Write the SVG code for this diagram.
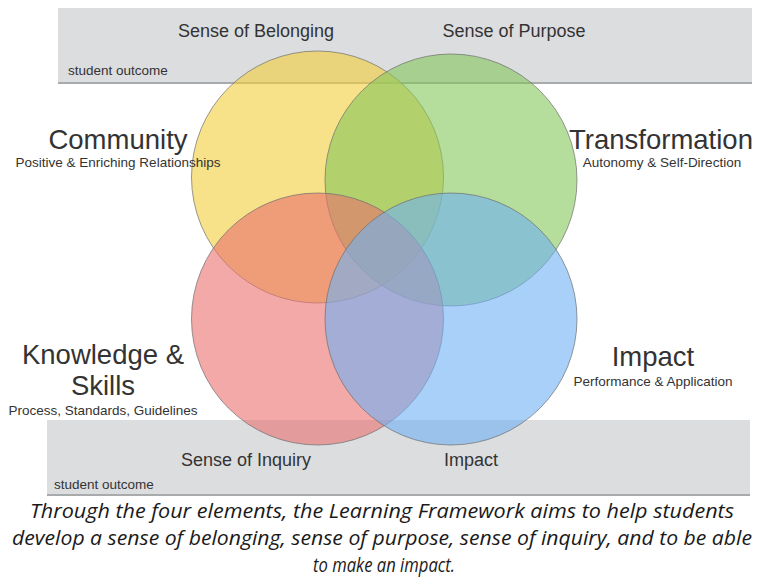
<svg xmlns="http://www.w3.org/2000/svg" width="768" height="579" viewBox="0 0 768 579">
<defs>
<style>
.band{fill:#dcdddf}
.shadow{fill:#a9aaac}
.c{stroke:#6d6d6d;stroke-opacity:0.7;stroke-width:1;fill-opacity:0.6}
.t{font-family:"Liberation Sans",Arial,sans-serif;fill:#333333;text-anchor:middle}
.big{font-size:27.5px}
.med{font-size:18px}
.sm{font-size:13.5px}
.so{font-family:"Liberation Sans",Arial,sans-serif;fill:#333333;font-size:13.5px}
.cap{font-family:"Open Sans","Liberation Sans",sans-serif;font-style:italic;font-size:20.5px;fill:#1a1a1a;text-anchor:middle}
</style>
</defs>
<rect width="768" height="579" fill="#ffffff"/>
<g id="band-top">
<rect class="band" x="58" y="8" width="694" height="75"/>
<rect class="shadow" x="58" y="82" width="694" height="2"/>
<text class="t med" x="256" y="37">Sense of Belonging</text>
<text class="t med" x="514" y="37">Sense of Purpose</text>
<text class="so" x="68" y="75">student outcome</text>
</g>
<g id="band-bottom">
<rect class="band" x="47" y="420" width="703" height="75"/>
<rect class="shadow" x="47" y="494" width="703" height="2"/>
<text class="t med" x="246" y="466">Sense of Inquiry</text>
<text class="t med" x="471" y="466">Impact</text>
<text class="so" x="54" y="489">student outcome</text>
</g>
<g id="circle-community"><circle class="c" cx="317.5" cy="177" r="126" fill="#f2cf3a"/></g>
<g id="circle-transformation"><circle class="c" cx="451" cy="180" r="126" fill="#84c65a"/></g>
<g id="circle-knowledge"><circle class="c" cx="317.5" cy="319" r="126" fill="#e9706e"/></g>
<g id="circle-impact"><circle class="c" cx="451" cy="319" r="126" fill="#6eb1f3"/></g>
<g id="label-community">
<text class="t big" x="118" y="149">Community</text>
<text class="t sm" x="118" y="167">Positive &amp; Enriching Relationships</text>
</g>
<g id="label-transformation">
<text class="t big" x="661" y="149">Transformation</text>
<text class="t sm" x="662" y="167">Autonomy &amp; Self-Direction</text>
</g>
<g id="label-knowledge">
<text class="t big" x="103" y="364">Knowledge &amp;</text>
<text class="t big" x="103" y="395">Skills</text>
<text class="t sm" x="103" y="415">Process, Standards, Guidelines</text>
</g>
<g id="label-impact">
<text class="t big" x="653" y="366">Impact</text>
<text class="t sm" x="653" y="386">Performance &amp; Application</text>
</g>
<g id="caption">
<text class="cap" x="382" y="518" textLength="704" lengthAdjust="spacingAndGlyphs">Through the four elements, the Learning Framework aims to help students</text>
<text class="cap" x="382" y="545" textLength="740" lengthAdjust="spacingAndGlyphs">develop a sense of belonging, sense of purpose, sense of inquiry, and to be able</text>
<text class="cap" x="384" y="572" textLength="142" lengthAdjust="spacingAndGlyphs">to make an impact.</text>
</g>
</svg>
